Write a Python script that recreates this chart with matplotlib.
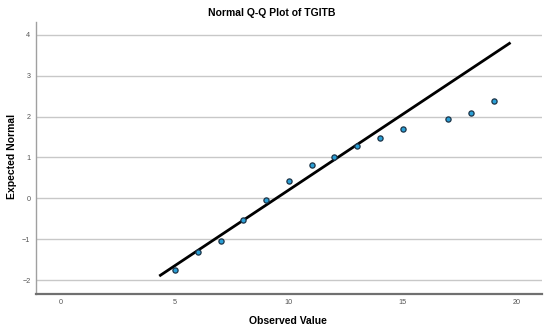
import numpy as np
import matplotlib as mpl
import matplotlib.pyplot as plt

mpl.rcParams['font.family'] = ['Liberation Sans', 'DejaVu Sans']

# observed values and expected normal quantiles
observed = [5, 6, 7, 8, 9, 10, 11, 12, 13, 14, 15, 17, 18, 19]
expected = [-1.75, -1.32, -1.03, -0.52, -0.05, 0.42, 0.81, 1.02, 1.27, 1.47, 1.70, 1.93, 2.10, 2.37]

# reference line end points
line_x = [4.36, 19.68]
line_y = [-1.88, 3.79]

x_ticks = [0, 5, 10, 15, 20]
y_ticks = [-2, -1, 0, 1, 2, 3, 4]

fig = plt.figure(figsize=(5.5, 3.32), dpi=100)
ax = fig.add_axes([0.0655, 0.1154, 0.9195, 0.8192])

for t in y_ticks:
    ax.axhline(t, color='#c8c8c8', lw=1.0, zorder=0)

ax.plot(line_x, line_y, color='black', lw=2.0, zorder=2)
ax.scatter(observed, expected, s=14, facecolor='#2a9fd6', edgecolor='#1b3347',
           linewidth=0.9, zorder=3)

ax.set_xlim(-1.1, 21.1)
ax.set_ylim(-2.33, 4.32)
ax.set_xticks(x_ticks)
ax.set_yticks(y_ticks)
ax.tick_params(length=0, labelsize=5.2, colors='#555555', pad=4)

for s in ['top', 'right']:
    ax.spines[s].set_visible(False)
ax.spines['left'].set_color('#a0a0a0')
ax.spines['left'].set_linewidth(1.0)
ax.spines['bottom'].set_color('#707070')
ax.spines['bottom'].set_linewidth(1.6)

fig.text(0.495, 0.962, 'Normal Q-Q Plot of TGITB', ha='center', va='center',
         fontsize=7.5, fontweight='bold')
fig.text(0.524, 0.033, 'Observed Value', ha='center', va='center',
         fontsize=7.5, fontweight='bold')
fig.text(0.022, 0.53, 'Expected Normal', ha='center', va='center',
         rotation=90, fontsize=7.5, fontweight='bold')

fig.savefig('out.png', dpi=100)
